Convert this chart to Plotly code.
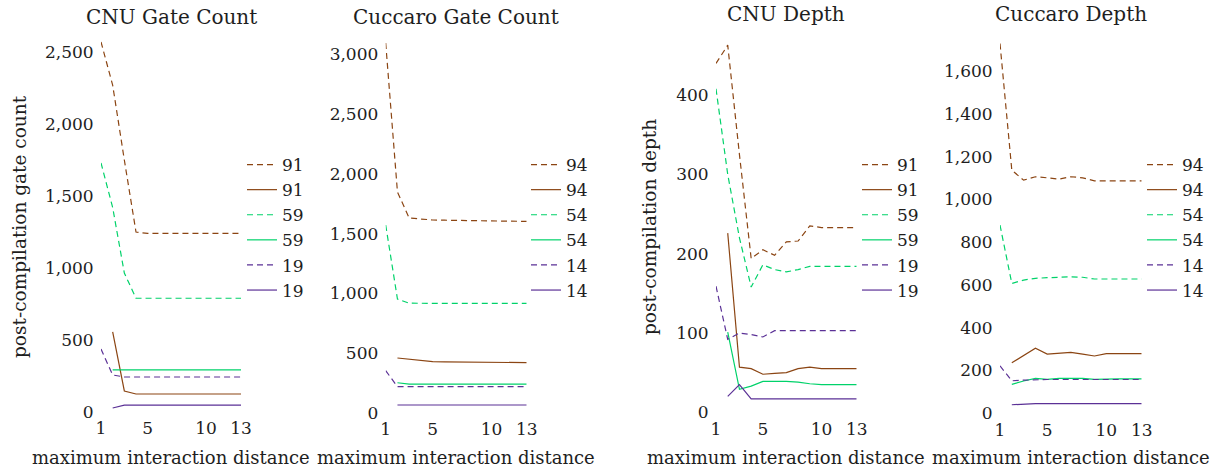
import plotly.graph_objects as go

# Maximum interaction distance (x axis of every panel)
distance = list(range(1, 14))
x_ticks = [1, 5, 10, 13]

# CNU gate count
cnu_gate_91_dashed = [2570, 2270, 1750, 1250, 1240, 1240, 1240, 1240, 1240, 1240, 1240, 1240, 1240]
cnu_gate_91_solid = [None, 556, 146, 125, 125, 125, 125, 125, 125, 125, 125, 125, 125]
cnu_gate_59_dashed = [1730, 1420, 965, 790, 790, 790, 790, 790, 790, 790, 790, 790, 790]
cnu_gate_59_solid = [None, 292, 292, 292, 292, 292, 292, 292, 292, 292, 292, 292, 292]
cnu_gate_19_dashed = [437, 257, 243, 243, 243, 243, 243, 243, 243, 243, 243, 243, 243]
cnu_gate_19_solid = [None, 28, 48, 48, 48, 48, 48, 48, 48, 48, 48, 48, 48]

# Cuccaro gate count
cuc_gate_94_dashed = [3094, 1848, 1630, 1620, 1614, 1612, 1610, 1608, 1606, 1605, 1604, 1603, 1602]
cuc_gate_94_solid = [None, 460, 450, 440, 430, 428, 427, 426, 425, 424, 423, 422, 421]
cuc_gate_54_dashed = [1572, 953, 918, 916, 916, 916, 916, 916, 916, 916, 916, 916, 916]
cuc_gate_54_solid = [None, 253, 242, 242, 242, 242, 242, 242, 242, 242, 242, 242, 242]
cuc_gate_14_dashed = [354, 220, 220, 220, 220, 220, 220, 220, 220, 220, 220, 220, 220]
cuc_gate_14_solid = [None, 67, 67, 67, 67, 67, 67, 67, 67, 67, 67, 67, 67]

# CNU depth
cnu_depth_91_dashed = [440, 463, 325, 194, 205, 198, 215, 216, 235, 233, 233, 233, 233]
cnu_depth_91_solid = [None, 226, 57, 55, 48, 49, 50, 55, 57, 55, 55, 55, 55]
cnu_depth_59_dashed = [408, 300, 220, 158, 186, 180, 177, 180, 184, 184, 184, 184, 184]
cnu_depth_59_solid = [None, 101, 29, 33, 39, 39, 39, 38, 36, 35, 35, 35, 35]
cnu_depth_19_dashed = [159, 92, 100, 98, 95, 103, 103, 103, 103, 103, 103, 103, 103]
cnu_depth_19_solid = [None, 20, 35, 17, 17, 17, 17, 17, 17, 17, 17, 17, 17]

# Cuccaro depth
cuc_depth_94_dashed = [1729, 1137, 1090, 1106, 1101, 1095, 1106, 1101, 1087, 1087, 1087, 1087, 1087]
cuc_depth_94_solid = [None, 236, 269, 304, 277, 280, 285, 277, 268, 279, 279, 279, 279]
cuc_depth_54_dashed = [880, 607, 623, 631, 634, 636, 638, 636, 628, 628, 628, 628, 628]
cuc_depth_54_solid = [None, 135, 151, 163, 159, 163, 163, 163, 159, 161, 161, 161, 161]
cuc_depth_14_dashed = [222, 152, 155, 158, 158, 158, 158, 158, 158, 158, 158, 158, 158]
cuc_depth_14_solid = [None, 40, 43, 45, 45, 45, 45, 45, 45, 45, 45, 45, 45]

BROWN = "#8B4513"
GREEN = "#00D26A"
PURPLE = "#5B3196"
DASH = "6px,4px"
FONT = "'DejaVu Serif', serif"
INK = "#1e1e1e"
FS = 17

W, H = 1217, 469

panels = [
    dict(title="CNU Gate Count", title_y=17, labels=["91", "59", "19"],
         series=[cnu_gate_91_dashed, cnu_gate_91_solid, cnu_gate_59_dashed,
                 cnu_gate_59_solid, cnu_gate_19_dashed, cnu_gate_19_solid],
         xpx=(101, 241), ybot=412, ytop=37.6, yrange=2600,
         yticks=[0, 500, 1000, 1500, 2000, 2500], legx=242,
         ylabel="post-compilation gate count", ylabx=19),
    dict(title="Cuccaro Gate Count", title_y=17, labels=["94", "54", "14"],
         series=[cuc_gate_94_dashed, cuc_gate_94_solid, cuc_gate_54_dashed,
                 cuc_gate_54_solid, cuc_gate_14_dashed, cuc_gate_14_solid],
         xpx=(385.7, 526.7), ybot=413, ytop=30.3, yrange=3200,
         yticks=[0, 500, 1000, 1500, 2000, 2500, 3000], legx=526,
         ylabel=None),
    dict(title="CNU Depth", title_y=14, labels=["91", "59", "19"],
         series=[cnu_depth_91_dashed, cnu_depth_91_solid, cnu_depth_59_dashed,
                 cnu_depth_59_solid, cnu_depth_19_dashed, cnu_depth_19_solid],
         xpx=(716, 856.7), ybot=412.3, ytop=31.7, yrange=480,
         yticks=[0, 100, 200, 300, 400], legx=857,
         ylabel="post-compilation depth", ylabx=649),
    dict(title="Cuccaro Depth", title_y=14, labels=["94", "54", "14"],
         series=[cuc_depth_94_dashed, cuc_depth_94_solid, cuc_depth_54_dashed,
                 cuc_depth_54_solid, cuc_depth_14_dashed, cuc_depth_14_solid],
         xpx=(1000, 1141.7), ybot=413.3, ytop=28.3, yrange=1800,
         yticks=[0, 200, 400, 600, 800, 1000, 1200, 1400, 1600], legx=1142,
         ylabel=None),
]

fig = go.Figure()
layout = dict(
    width=W, height=H,
    margin=dict(l=0, r=0, t=0, b=0, autoexpand=False),
    paper_bgcolor="white", plot_bgcolor="white",
    font=dict(family=FONT, size=FS, color=INK),
    annotations=[],
)

colors = [BROWN, BROWN, GREEN, GREEN, PURPLE, PURPLE]
dashes = [DASH, "solid", DASH, "solid", DASH, "solid"]

for i, p in enumerate(panels):
    n = i + 1
    xa = "x" if n == 1 else f"x{n}"
    ya = "y" if n == 1 else f"y{n}"
    leg = "legend" if n == 1 else f"legend{n}"
    names = [p["labels"][k // 2] for k in range(6)]
    for k, ys in enumerate(p["series"]):
        fig.add_trace(go.Scatter(
            x=distance, y=ys, mode="lines", name=names[k],
            line=dict(color=colors[k], width=1.2, dash=dashes[k]),
            xaxis=xa, yaxis=ya, legend=leg, connectgaps=False,
        ))

    x0, x1 = p["xpx"]
    common = dict(showgrid=False, zeroline=False, showline=False,
                  ticks="outside", tickcolor="rgba(0,0,0,0)",
                  tickfont=dict(family=FONT, size=FS, color=INK))
    layout["xaxis" if n == 1 else f"xaxis{n}"] = dict(
        domain=[x0 / W, x1 / W], range=[1, 13], tickvals=x_ticks,
        anchor=ya, ticklen=1, **common)
    layout["yaxis" if n == 1 else f"yaxis{n}"] = dict(
        domain=[(H - p["ybot"]) / H, (H - p["ytop"]) / H],
        range=[0, p["yrange"]], tickvals=p["yticks"], tickformat=",d",
        anchor=xa, ticklen=3, **common)

    layout[leg] = dict(
        x=p["legx"] / W, y=(H - 147) / H, xanchor="left", yanchor="top",
        bgcolor="rgba(0,0,0,0)", borderwidth=0, itemwidth=30,
        font=dict(family=FONT, size=FS, color=INK),
        tracegroupgap=0,
    )

    cx = (x0 + x1) / 2
    layout["annotations"].append(dict(
        text=p["title"], x=cx / W, y=(H - p["title_y"]) / H,
        xref="paper", yref="paper", showarrow=False,
        xanchor="center", yanchor="middle",
        font=dict(family=FONT, size=20, color=INK)))
    layout["annotations"].append(dict(
        text="maximum interaction distance", x=cx / W, y=(H - 457) / H,
        xref="paper", yref="paper", showarrow=False,
        xanchor="center", yanchor="middle",
        font=dict(family=FONT, size=18, color=INK)))
    if p["ylabel"]:
        layout["annotations"].append(dict(
            text=p["ylabel"], x=p["ylabx"] / W, y=(H - 227) / H,
            xref="paper", yref="paper", showarrow=False, textangle=-90,
            xanchor="center", yanchor="middle",
            font=dict(family=FONT, size=18.5, color=INK)))

fig.update_layout(**layout)
fig.write_html("out.html")
